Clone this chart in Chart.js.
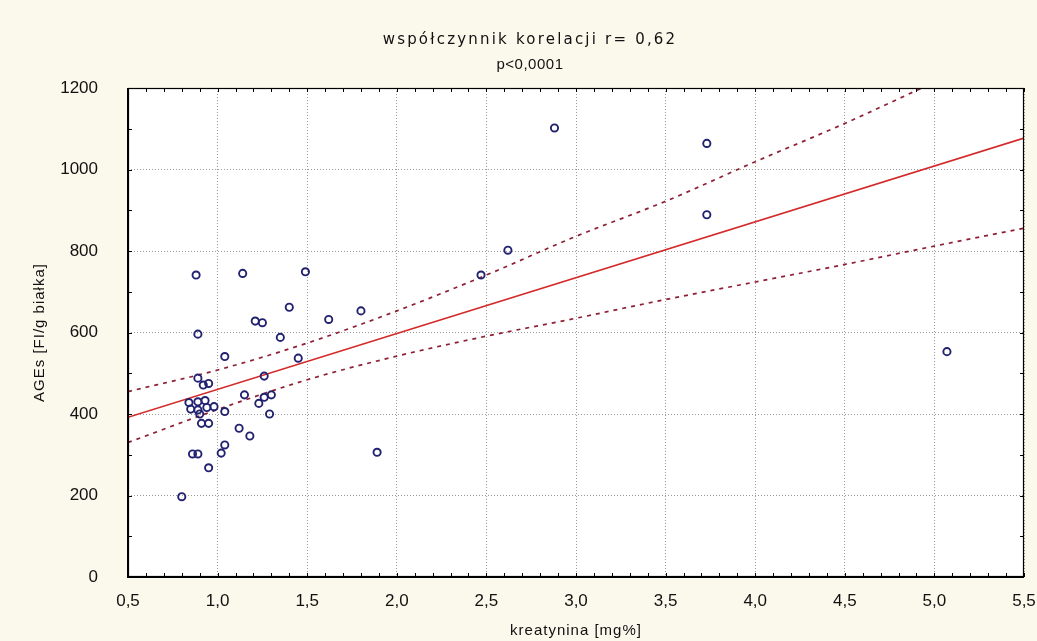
<!DOCTYPE html>
<html>
<head>
<meta charset="utf-8">
<script src="https://cdn.jsdelivr.net/npm/chart.js@4/dist/chart.umd.min.js"></script>
<style>
  html, body { margin: 0; padding: 0; background: #fbf8ec; }
  #wrap { width: 1037px; height: 641px; }
</style>
</head>
<body>
<div id="wrap"><canvas id="c" width="1037" height="641"></canvas></div>
<script>
// Creatinine (mg%) and AGEs (FI/g protein) per patient
const kreatynina = [
  0.80, 0.86, 0.89, 0.95, 1.02, 1.04, 0.91, 0.95, 1.12, 1.18,
  0.84, 0.85, 0.89, 0.89, 0.93, 0.94, 0.98, 0.90, 1.04,
  0.89, 0.92, 0.95, 1.26, 1.15, 1.23, 1.26, 1.30, 1.29,
  0.88, 1.14, 1.49, 1.40, 1.21, 1.25, 0.89, 1.35, 1.04, 1.45,
  1.62, 1.80, 1.89, 2.47, 2.62, 2.88, 3.73, 3.73, 5.07
];
const ages = [
  197, 302, 302, 268, 304, 324, 377, 377, 365, 346,
  428, 412, 430, 410, 433, 416, 418, 400, 406,
  488, 471, 475, 493, 447, 426, 441, 447, 400,
  741, 745, 749, 662, 628, 624, 596, 588, 541, 537,
  632, 653, 306, 741, 802, 1102, 1064, 889, 553
];

// Regression line end points
const fitX = [0.5, 5.5];
const fitY = [392, 1077];

// 95% confidence band
const upperX = [0.5, 1.0, 1.5, 2.0, 2.5, 3.0, 3.5, 4.0, 4.5, 4.93];
const upperY = [455, 508, 574, 653, 741, 836, 922, 1019, 1113, 1200];
const lowerX = [0.5, 1.0, 1.5, 2.0, 2.5, 3.0, 3.5, 4.0, 4.5, 5.0, 5.5];
const lowerY = [330, 411, 484, 542, 591, 635, 681, 724, 767, 812, 856];

// Axis ticks
const xTicks = [0.5, 1.0, 1.5, 2.0, 2.5, 3.0, 3.5, 4.0, 4.5, 5.0, 5.5];
const yTicks = [0, 200, 400, 600, 800, 1000, 1200];

const titleLines = ['współczynnik korelacji r= 0,62', 'p<0,0001'];
const xTitle = 'kreatynina [mg%]';
const yTitle = 'AGEs [FI/g białka]';

const zip = (xs, ys) => xs.map((x, i) => ({ x: x, y: ys[i] }));
const FONT = '"Liberation Sans", Arial, sans-serif';
const WIDE_FONT = '"DejaVu Sans", Verdana, sans-serif';

// White plot area, frame with inner minor ticks, titles
const framePlugin = {
  id: 'frame',
  beforeDraw(chart) {
    const { ctx, chartArea: a } = chart;
    ctx.save();
    ctx.fillStyle = '#ffffff';
    ctx.fillRect(a.left, a.top, a.right - a.left, a.bottom - a.top);
    ctx.restore();
  },
  afterDraw(chart) {
    const { ctx, chartArea: a, scales } = chart;
    const xs = scales.x, ys = scales.y;
    ctx.save();
    ctx.strokeStyle = '#000';
    ctx.lineWidth = 1.2;
    ctx.strokeRect(a.left + 0.5, a.top + 0.5, a.right - a.left - 1, a.bottom - a.top - 1);
    ctx.lineWidth = 2;
    ctx.beginPath();
    ctx.moveTo(a.left, a.top); ctx.lineTo(a.left, a.bottom); ctx.lineTo(a.right, a.bottom);
    ctx.stroke();
    // minor ticks, pointing inward
    ctx.lineWidth = 1;
    ctx.beginPath();
    for (let v = 5; v <= 55; v++) {
      const px = Math.round(xs.getPixelForValue(v / 10)) + 0.5;
      ctx.moveTo(px, a.bottom); ctx.lineTo(px, a.bottom - 4);
      ctx.moveTo(px, a.top); ctx.lineTo(px, a.top + 4);
    }
    for (let v = 0; v <= 1200; v += 100) {
      const py = Math.round(ys.getPixelForValue(v)) + 0.5;
      ctx.moveTo(a.left, py); ctx.lineTo(a.left + 4, py);
      ctx.moveTo(a.right, py); ctx.lineTo(a.right - 4, py);
    }
    ctx.stroke();

    // titles
    ctx.fillStyle = '#111111';
    ctx.textAlign = 'center';
    ctx.textBaseline = 'middle';
    const canSpace = 'letterSpacing' in ctx;
    ctx.font = '15px ' + WIDE_FONT;
    if (canSpace) ctx.letterSpacing = '2.2px';
    ctx.fillText(titleLines[0], 530, 40);
    ctx.font = '15px ' + FONT;
    if (canSpace) ctx.letterSpacing = '0.5px';
    ctx.fillText(titleLines[1], 530, 65);
    if (canSpace) ctx.letterSpacing = '1px';
    ctx.fillText(xTitle, 576, 631);
    ctx.translate(40, (a.top + a.bottom) / 2);
    ctx.rotate(-Math.PI / 2);
    ctx.fillText(yTitle, 0, 0);
    ctx.restore();
  }
};

const lineDefaults = { showLine: true, pointRadius: 0, pointHoverRadius: 0, fill: false };

new Chart(document.getElementById('c'), {
  type: 'scatter',
  data: {
    datasets: [
      {
        label: 'AGEs',
        data: zip(kreatynina, ages),
        pointStyle: 'circle',
        pointRadius: 3.6,
        pointBorderWidth: 1.9,
        borderColor: '#222270',
        backgroundColor: 'rgba(0,0,0,0)',
        order: 0
      },
      Object.assign({
        label: 'regresja',
        data: zip(fitX, fitY),
        borderColor: '#d42a2a',
        borderWidth: 1.6,
        order: 1
      }, lineDefaults),
      Object.assign({
        label: 'górna granica 95%',
        data: zip(upperX, upperY),
        borderColor: '#8e2035',
        borderWidth: 1.7,
        borderDash: [4, 5],
        tension: 0.4,
        cubicInterpolationMode: 'monotone',
        order: 2
      }, lineDefaults),
      Object.assign({
        label: 'dolna granica 95%',
        data: zip(lowerX, lowerY),
        borderColor: '#8e2035',
        borderWidth: 1.7,
        borderDash: [4, 5],
        tension: 0.4,
        cubicInterpolationMode: 'monotone',
        order: 2
      }, lineDefaults)
    ]
  },
  options: {
    responsive: false,
    animation: false,
    events: [],
    layout: { padding: { top: 88, right: 13, left: 0, bottom: 0 } },
    plugins: {
      legend: { display: false },
      title: { display: false },
      tooltip: { enabled: false }
    },
    scales: {
      x: {
        type: 'linear',
        min: xTicks[0],
        max: xTicks[xTicks.length - 1],
        afterFit(scale) { scale.height = 64; scale.paddingLeft = 0; scale.paddingRight = 0; },
        afterBuildTicks(scale) { scale.ticks = xTicks.map(v => ({ value: v })); },
        ticks: {
          padding: 14,
          color: '#111111',
          font: { family: FONT, size: 17 },
          callback: v => v.toFixed(1).replace('.', ',')
        },
        grid: { color: '#9a9a9a', lineWidth: 1, drawTicks: false },
        border: { display: false, dash: [1, 2] }
      },
      y: {
        type: 'linear',
        min: yTicks[0],
        max: yTicks[yTicks.length - 1],
        afterFit(scale) { scale.width = 128; scale.paddingTop = 0; scale.paddingBottom = 0; },
        afterBuildTicks(scale) { scale.ticks = yTicks.map(v => ({ value: v })); },
        ticks: {
          padding: 30,
          color: '#111111',
          font: { family: FONT, size: 17 },
          callback: v => String(v)
        },
        grid: { color: '#9a9a9a', lineWidth: 1, drawTicks: false },
        border: { display: false, dash: [1, 2] }
      }
    }
  },
  plugins: [framePlugin]
});
</script>
</body>
</html>
